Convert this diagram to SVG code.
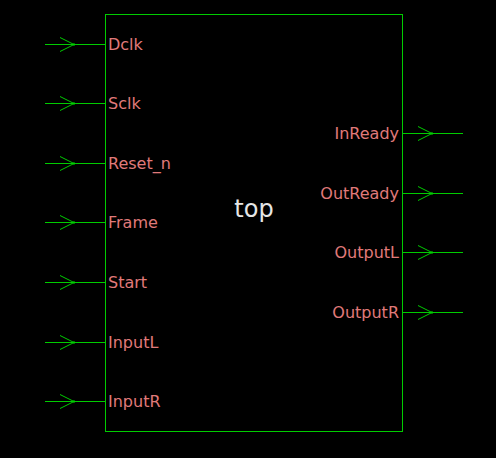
<svg xmlns="http://www.w3.org/2000/svg" width="496" height="458" viewBox="0 0 496 458">
<style>
.w{stroke:#00cc00;stroke-width:1;fill:none}
.l{font-family:"DejaVu Sans",sans-serif;font-size:16px;fill:#e07a7a}
.r{text-anchor:end}
.t{font-family:"DejaVu Sans",sans-serif;font-size:24px;fill:#e6e6e6;text-anchor:middle}
</style>
<defs>
<g id="arr"><path class="w" d="M0,0H60M15,-7L29,0L15,7"/><rect x="28" y="-1" width="2" height="2" fill="#00cc00"/></g>
</defs>
<rect width="496" height="458" fill="#000"/>
<g id="top">
<rect class="w" x="105.5" y="14.5" width="297" height="417"/>
<text class="t" x="254" y="217">top</text>
</g>
<g id="connectors">
<use href="#arr" x="45" y="44.5"/>
<use href="#arr" x="45" y="103.5"/>
<use href="#arr" x="45" y="163.5"/>
<use href="#arr" x="45" y="222.5"/>
<use href="#arr" x="45" y="282.5"/>
<use href="#arr" x="45" y="342.5"/>
<use href="#arr" x="45" y="401.5"/>
<use href="#arr" x="403" y="133.5"/>
<use href="#arr" x="403" y="193.5"/>
<use href="#arr" x="403" y="252.5"/>
<use href="#arr" x="403" y="312.5"/>
</g>
<g id="ports">
<text class="l" x="108" y="50">Dclk</text>
<text class="l" x="108" y="109">Sclk</text>
<text class="l" x="108" y="169">Reset_n</text>
<text class="l" x="108" y="228">Frame</text>
<text class="l" x="108" y="288">Start</text>
<text class="l" x="108" y="348">InputL</text>
<text class="l" x="108" y="407">InputR</text>
<text class="l r" x="399" y="139">InReady</text>
<text class="l r" x="399" y="199">OutReady</text>
<text class="l r" x="399" y="258">OutputL</text>
<text class="l r" x="399" y="318">OutputR</text>
</g>
</svg>
